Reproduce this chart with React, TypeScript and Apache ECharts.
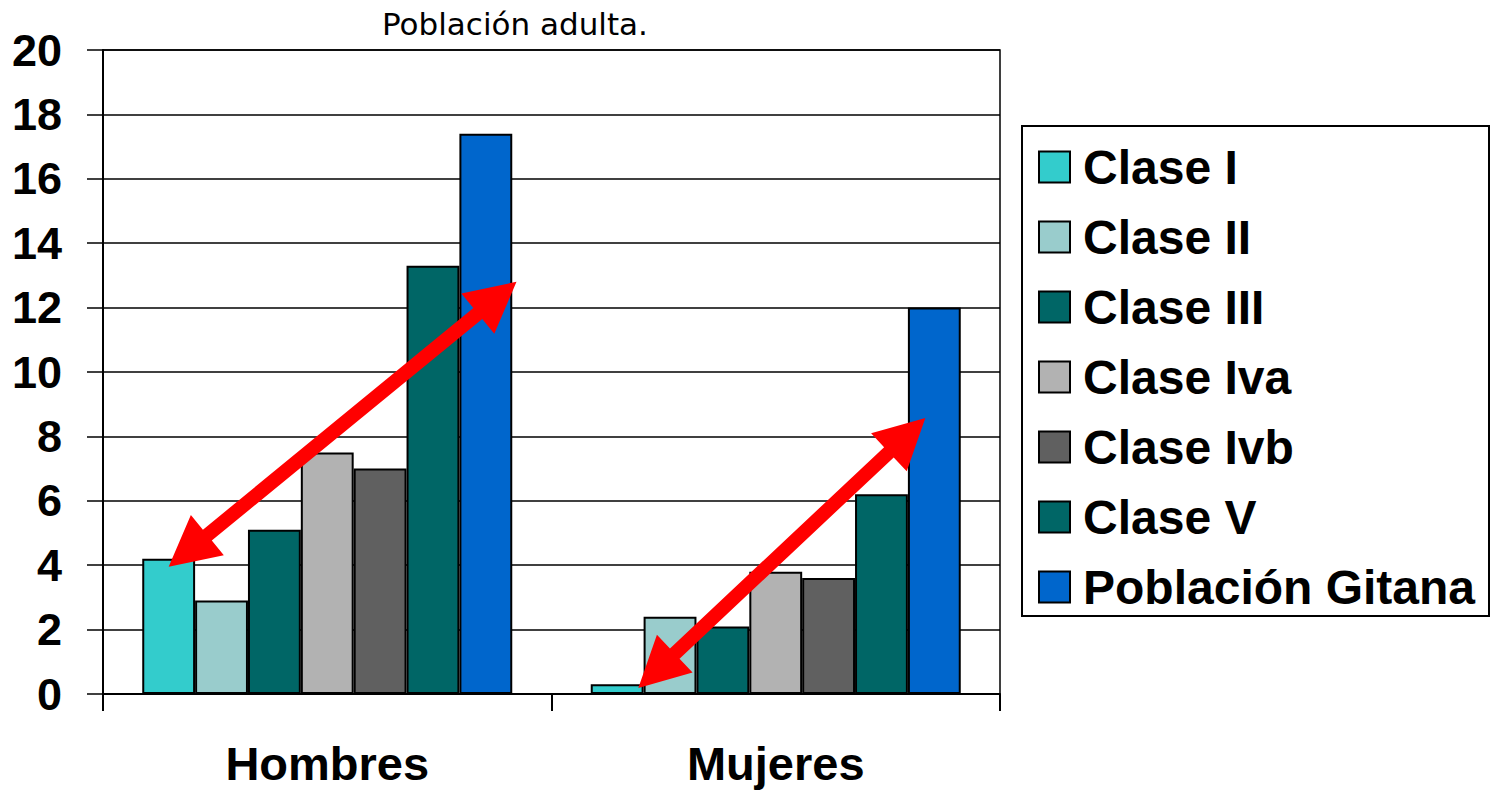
import React, { useEffect, useRef } from "react";
import * as echarts from "echarts";

const categories = ["Hombres", "Mujeres"];
const seriesNames = ["Clase I", "Clase II", "Clase III", "Clase Iva", "Clase Ivb", "Clase V", "Población Gitana"];
const seriesColors = ["#33CCCC", "#99CCCC", "#006666", "#B2B2B2", "#606060", "#006666", "#0066CC"];
const claseI = [4.2, 0.3];
const claseII = [2.9, 2.4];
const claseIII = [5.1, 2.1];
const claseIva = [7.5, 3.8];
const claseIvb = [7.0, 3.6];
const claseV = [13.3, 6.2];
const gitana = [17.4, 12.0];
const seriesValues = [claseI, claseII, claseIII, claseIva, claseIvb, claseV, gitana];
const titleText = "Población adulta.";
// arrows: [categoryIndex, barSlot, value] start -> end
const arrows = [
  { from: [0, 0.0, 3.95], to: [0, 6.58, 12.8] },
  { from: [1, 0.4, 0.19], to: [1, 5.83, 8.57] },
];

const GRID = { left: 103, top: 50, width: 897, height: 644 };
const CAT_GAP = 0.175;

function arrowPolygon(x1: number, y1: number, x2: number, y2: number) {
  const dx = x2 - x1, dy = y2 - y1;
  const len = Math.sqrt(dx * dx + dy * dy);
  const ux = dx / len, uy = dy / len;
  const px = -uy, py = ux;
  const sw = 7, hl = 50, hw = 26;
  const a = [x1 + ux * hl, y1 + uy * hl];
  const b = [x2 - ux * hl, y2 - uy * hl];
  return [
    [x1, y1],
    [a[0] + px * hw, a[1] + py * hw],
    [a[0] + px * sw, a[1] + py * sw],
    [b[0] + px * sw, b[1] + py * sw],
    [b[0] + px * hw, b[1] + py * hw],
    [x2, y2],
    [b[0] - px * hw, b[1] - py * hw],
    [b[0] - px * sw, b[1] - py * sw],
    [a[0] - px * sw, a[1] - py * sw],
    [a[0] - px * hw, a[1] - py * hw],
  ];
}

export default function App() {
  const ref = useRef<HTMLDivElement>(null);
  useEffect(() => {
    if (!ref.current) return;
    const chart = echarts.init(ref.current, null, { renderer: "svg" });
    const option: any = {
      animation: false,
      backgroundColor: "#ffffff",
      title: {
        text: titleText,
        left: 377,
        top: 3,
        textStyle: { fontFamily: "DejaVu Sans", fontWeight: "normal", fontSize: 31, color: "#000" },
      },
      legend: {
        orient: "vertical",
        left: 1038,
        top: 143,
        padding: 0,
        itemWidth: 31,
        itemHeight: 31,
        itemGap: 22,
        icon: "rect",
        textStyle: {
          fontFamily: "Liberation Sans, Arial, sans-serif",
          fontWeight: "bold",
          fontSize: 48,
          lineHeight: 48,
          color: "#000",
          padding: [0, 0, 0, 8],
        },
        data: seriesNames,
      },
      grid: {
        ...GRID,
        show: true,
        borderColor: "#000",
        borderWidth: 1.5,
        backgroundColor: "transparent",
      },
      xAxis: {
        type: "category",
        data: categories,
        axisLine: { show: true, lineStyle: { color: "#000", width: 2 } },
        axisTick: { show: true, length: 17, lineStyle: { color: "#000", width: 2 } },
        axisLabel: {
          margin: 46,
          fontFamily: "Liberation Sans, Arial, sans-serif",
          fontWeight: "bold",
          fontSize: 47,
          color: "#000",
        },
      },
      yAxis: {
        type: "value",
        min: 0,
        max: 20,
        interval: 2,
        axisLine: { show: true, lineStyle: { color: "#000", width: 2 } },
        axisTick: { show: true, length: 16, lineStyle: { color: "#000", width: 1.5 } },
        splitLine: { show: true, lineStyle: { color: "#000", width: 1.5 } },
        axisLabel: {
          margin: 41,
          fontFamily: "Liberation Sans, Arial, sans-serif",
          fontWeight: "bold",
          fontSize: 45,
          color: "#000",
        },
      },
      series: seriesNames.map((name, i) => ({
        name,
        type: "bar",
        data: seriesValues[i],
        barGap: "0%",
        barCategoryGap: CAT_GAP * 100 + "%",
        itemStyle: { color: seriesColors[i], borderColor: "#000", borderWidth: 2 },
      })),
    };
    chart.setOption(option);

    const catW = GRID.width / categories.length;
    const barW = (catW * (1 - CAT_GAP)) / seriesNames.length;
    const toPx = (p: number[]) => {
      const cx = chart.convertToPixel({ xAxisIndex: 0 }, categories[p[0]]) as number;
      const y = chart.convertToPixel({ yAxisIndex: 0 }, p[2]) as number;
      return [cx + (p[1] - (seriesNames.length - 1) / 2) * barW, y];
    };
    const graphics: any[] = arrows.map((a) => {
      const s = toPx(a.from);
      const e = toPx(a.to);
      return {
        type: "polygon",
        z: 100,
        shape: { points: arrowPolygon(s[0], s[1], e[0], e[1]) },
        style: { fill: "#FF0000", stroke: "none" },
      };
    });
    graphics.push({
      type: "rect",
      z: 50,
      shape: { x: 1022, y: 126, width: 467, height: 490 },
      style: { fill: "none", stroke: "#000", lineWidth: 2 },
    });
    chart.setOption({ graphic: graphics });

    return () => chart.dispose();
  }, []);
  return (
    <div
      ref={ref}
      style={{ position: "fixed", left: 0, top: 0, width: 1495, height: 792 }}
    />
  );
}
